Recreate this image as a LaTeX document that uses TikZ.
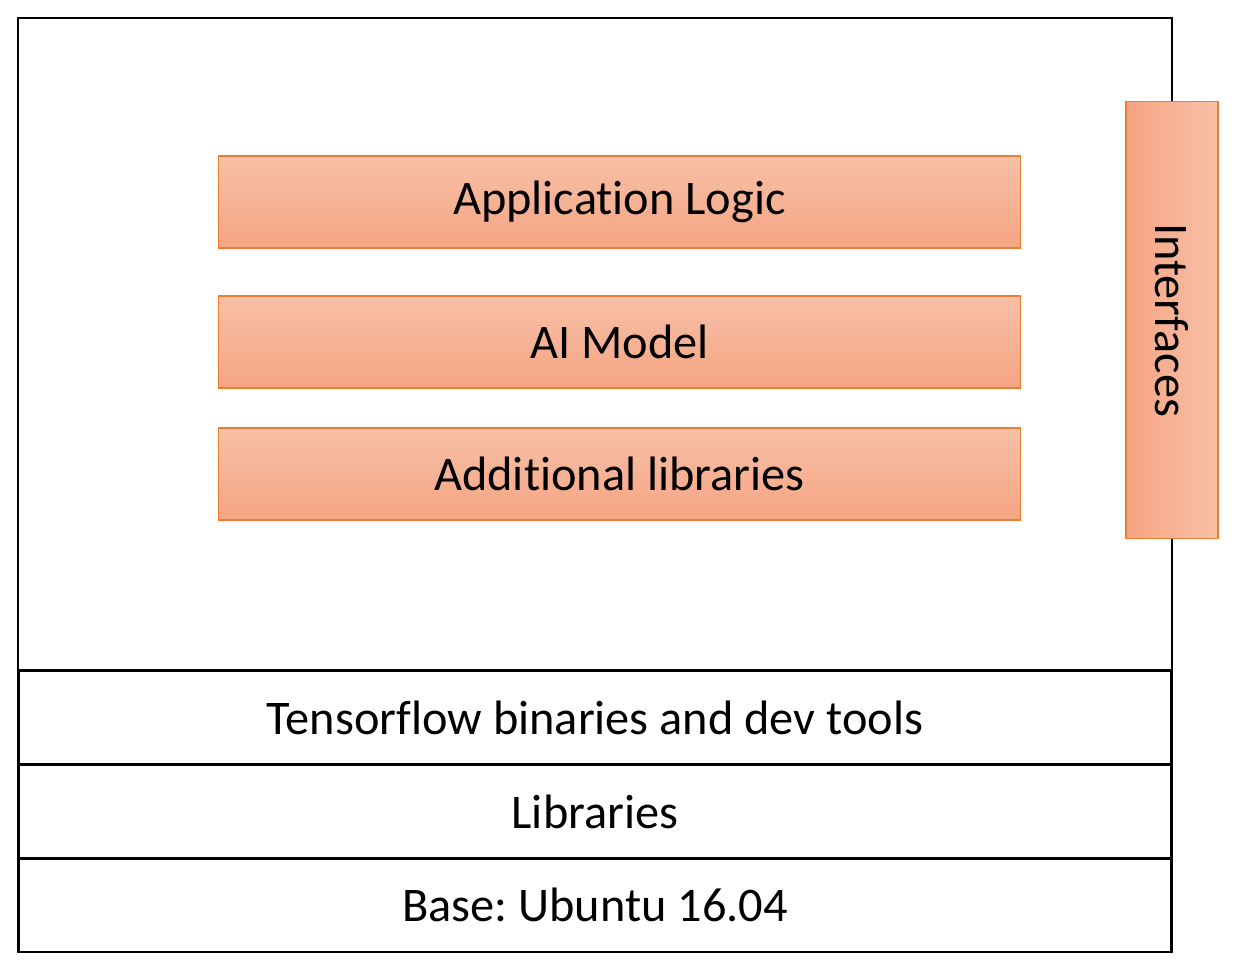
\documentclass[tikz,border=0pt]{standalone}
\usepackage{fontspec}
\setmainfont[Ligatures=NoCommon]{Carlito}
\frenchspacing
\usetikzlibrary{positioning}
\definecolor{peachtop}{RGB}{247,192,168}
\definecolor{peachbot}{RGB}{245,164,130}
\definecolor{peachline}{RGB}{237,125,49}
\tikzset{every path/.style={line width=1.6pt}, every node/.style={inner sep=0pt, font=\fontsize{27.5}{32}\selectfont},
  layer/.style={draw=black, line width=1.6pt, minimum width=23.08cm, minimum height=1.88cm},
  block/.style={draw=peachline, line width=0.6pt, top color=peachtop, bottom color=peachbot, minimum width=16.06cm, minimum height=1.84cm},
  sidebar/.style={draw=peachline, line width=0.6pt, left color=peachbot, right color=peachtop, minimum width=1.84cm, minimum height=8.76cm}}

\begin{document}
\begin{tikzpicture}[x=0.02cm, y=-0.02cm]
  \useasboundingbox (0,0) rectangle (1237,975);
  \draw (18,18) rectangle (1172,952);

  \node[layer] (tf)   at (595, 717.5) {Tensorflow binaries and dev tools};
  \node[layer] (libs) at (595, 811.5) {Libraries};
  \node[layer] (base) at (595, 905)   {Base: Ubuntu 16.04};

  \node[block] (app)   at (619.5, 202) {Application Logic};
  \node[block] (model) at (619.5, 342) {AI Model};
  \node[block] (addl)  at (619.5, 474) {Additional libraries};

  \node[sidebar] (iface) at (1172, 320) {};
  \node[rotate=-90] (ifacetext) at (iface.center) {Interfaces};
\end{tikzpicture}
\end{document}
